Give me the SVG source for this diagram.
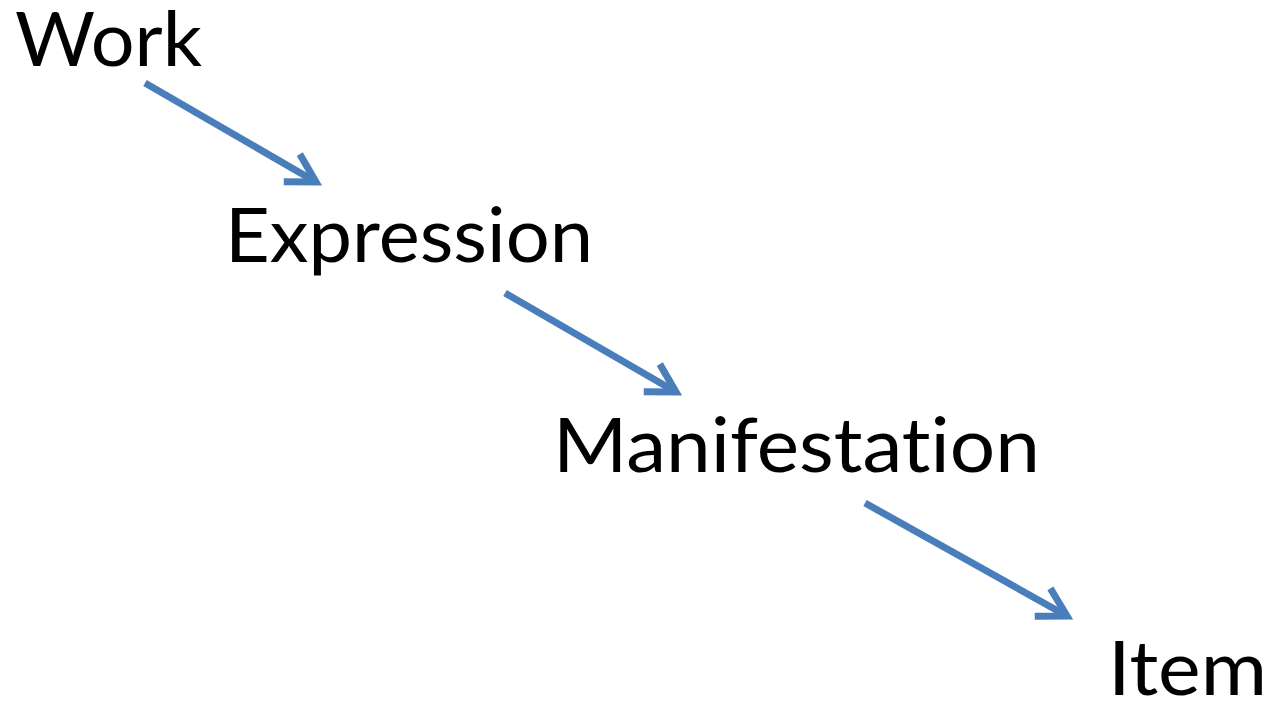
<svg xmlns="http://www.w3.org/2000/svg" width="1272" height="701" viewBox="0 0 1272 701">
<style>
.lbl{font-family:Lato,"Open Sans","Liberation Sans",sans-serif;font-size:75px;fill:#000;font-variant-ligatures:none;font-feature-settings:"liga" 0,"clig" 0}
.conn{stroke:#4a7ebb;stroke-width:7;fill:none}
</style>
<defs>
<marker id="arr" markerUnits="userSpaceOnUse" viewBox="-40 -30 60 60" markerWidth="60" markerHeight="60" refX="0" refY="0" orient="auto">
<path d="M-28,-16 L0,0 L-28,16" fill="none" stroke="#4a7ebb" stroke-width="7" stroke-linejoin="miter"/>
</marker>
</defs>
<rect width="1272" height="701" fill="#fff"/>
<g id="work"><text class="lbl" x="15" y="66" textLength="187" lengthAdjust="spacingAndGlyphs">Work</text></g>
<g id="expression"><text class="lbl" x="225" y="262" textLength="368" lengthAdjust="spacingAndGlyphs">Expression</text></g>
<g id="manifestation"><text class="lbl" x="553" y="472" textLength="487" lengthAdjust="spacingAndGlyphs">Manifestation</text></g>
<g id="item"><text class="lbl" x="1108" y="695" textLength="159" lengthAdjust="spacingAndGlyphs">Item</text></g>
<g id="connectors">
<line class="conn" x1="145" y1="83" x2="316" y2="182" marker-end="url(#arr)"/>
<line class="conn" x1="505" y1="293" x2="676" y2="392" marker-end="url(#arr)"/>
<line class="conn" x1="865" y1="503" x2="1067" y2="616" marker-end="url(#arr)"/>
</g>
</svg>
